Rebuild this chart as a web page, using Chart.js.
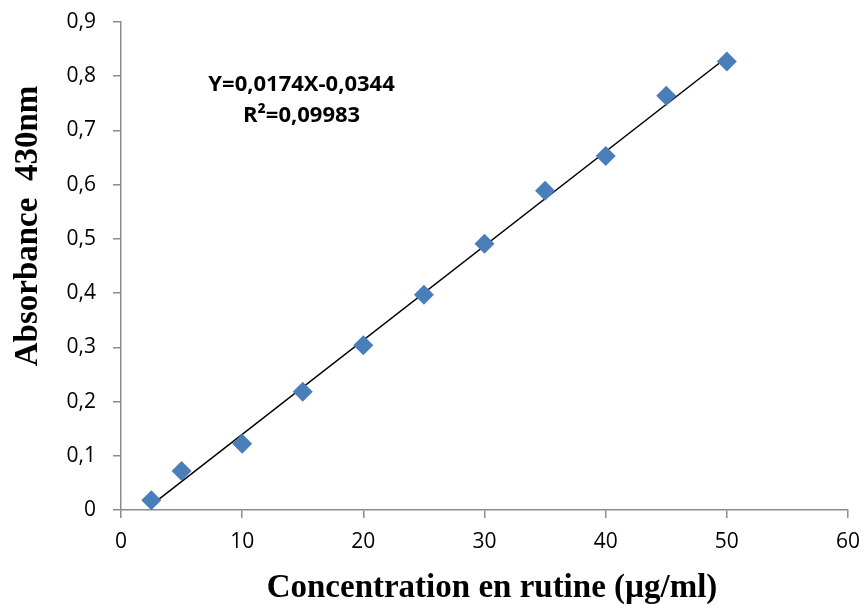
<!DOCTYPE html>
<html>
<head>
<meta charset="utf-8">
<script src="https://cdn.jsdelivr.net/npm/chart.js@4.4.0/dist/chart.umd.min.js"></script>
<style>
  html,body{margin:0;padding:0;background:#fff;}
  #wrap{width:864px;height:605px;}
</style>
</head>
<body>
<div id="wrap"><canvas id="c" width="864" height="605"></canvas></div>
<script>
// rutin calibration points
const concentration = [2.5, 5, 10, 15, 20, 25, 30, 35, 40, 45, 50];
const absorbance = [0.018, 0.072, 0.122, 0.218, 0.304, 0.397, 0.491, 0.589, 0.653, 0.764, 0.827];
// trend line ends
const trendX = [2.5, 50];
const trendY = [0.009, 0.835];
const eqLines = ['Y=0,0174X-0,0344', 'R\u00B2=0,09983'];
const yTitle = 'Absorbance  430nm';
const xTitle = 'Concentration en rutine (\u00B5g/ml)';

const axisGray = '#8c8c8c';
const tickFont = {family:'"Open Sans", sans-serif', size:21};

const labelsPlugin = {
  id:'labels',
  afterDraw(chart){
    const ctx = chart.ctx;
    const xs = chart.scales.x, ys = chart.scales.y;
    ctx.save();
    ctx.fillStyle = '#000';
    ctx.textAlign = 'center';
    ctx.textBaseline = 'middle';
    ctx.font = 'bold 22px "Open Sans", sans-serif';
    ctx.fillText(eqLines[0], xs.getPixelForValue(14.9), ys.getPixelForValue(0.784));
    ctx.fillText(eqLines[1], xs.getPixelForValue(14.9), ys.getPixelForValue(0.727));
    ctx.font = 'bold 33px "Liberation Serif", serif';
    ctx.textBaseline = 'alphabetic';
    ctx.fillText(xTitle, 492, 597);
    ctx.translate(37, 226);
    ctx.rotate(-Math.PI/2);
    ctx.fillText(yTitle, 0, 0);
    ctx.restore();
  }
};

new Chart(document.getElementById('c'), {
  type:'scatter',
  data:{
    datasets:[
      {
        label:'trend',
        data: trendX.map((x,i)=>({x, y:trendY[i]})),
        showLine:true,
        borderColor:'#000',
        borderWidth:1.5,
        pointRadius:0,
        order:2
      },
      {
        label:'Absorbance',
        data: concentration.map((x,i)=>({x, y:absorbance[i]})),
        pointStyle:'rectRot',
        pointRadius:10,
        pointHoverRadius:10,
        backgroundColor:'#4a7ebb',
        borderColor:'#4a7ebb',
        borderWidth:0,
        order:1
      }
    ]
  },
  options:{
    responsive:false,
    animation:false,
    layout:{padding:{left:0, right:16, top:22, bottom:0}},
    plugins:{legend:{display:false}, tooltip:{enabled:false}},
    scales:{
      x:{
        type:'linear', min:0, max:60,
        afterFit: s => { s.height = 95; s.paddingRight = 0; s.paddingLeft = 0; },
        ticks:{stepSize:10, color:'#000', font:tickFont, padding:11},
        grid:{drawOnChartArea:false, drawTicks:true, tickLength:8, color:axisGray, lineWidth:1.5},
        border:{color:axisGray, width:1.5}
      },
      y:{
        min:0, max:0.9,
        afterFit: s => { s.width = 121; s.paddingTop = 0; s.paddingBottom = 0; },
        ticks:{stepSize:0.1, color:'#000', font:tickFont, padding:17,
          callback:v => v === 0 ? '0' : v.toFixed(1).replace('.', ',')},
        grid:{drawOnChartArea:false, drawTicks:true, tickLength:8, color:axisGray, lineWidth:1.5},
        border:{color:axisGray, width:1.5}
      }
    }
  },
  plugins:[labelsPlugin]
});
</script>
</body>
</html>
